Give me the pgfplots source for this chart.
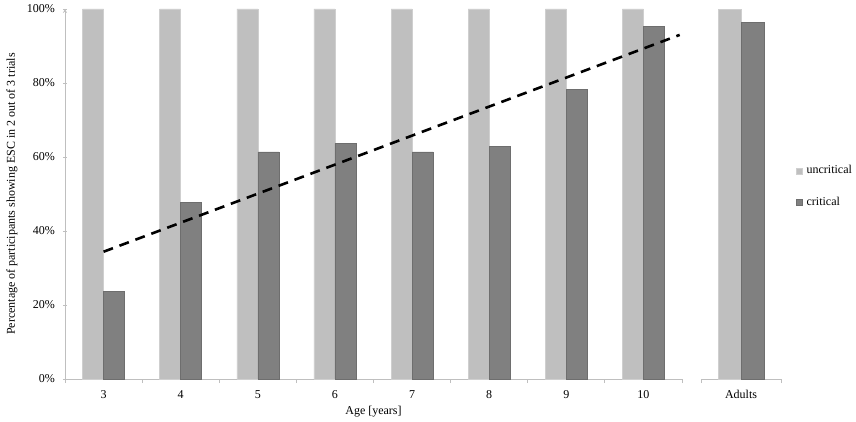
\documentclass[border=0pt]{standalone}
\usepackage{pgfplots}
\pgfplotsset{compat=1.18}
\usepackage{fontspec}
\setmainfont{Liberation Serif}
\definecolor{unc}{HTML}{BFBFBF}
\definecolor{uncedge}{HTML}{CFCFCF}
\definecolor{cri}{HTML}{808080}
\definecolor{criedge}{HTML}{6E6E6E}
\definecolor{axgray}{HTML}{BFBFBF}
\newcommand{\fs}{\fontsize{12}{14}\selectfont}
\pgfplotsset{
  common/.style={
    scale only axis,
    height=370pt,
    ymin=0, ymax=100,
    axis x line=bottom,
    axis line style={-,draw=axgray,line width=0.8pt},
    tick style={draw=axgray,line width=0.8pt},
    tick align=outside,
    major x tick style={draw=none},
    minor tick length=4pt,
    major tick length=4pt,
    x tick label style={font=\fs,yshift=-3pt},
    y tick label style={font=\fs,xshift=-4pt},
    label style={font=\fs},
    /pgf/number format/assume math mode=true,
    ybar,
    clip=false,
  }
}
\begin{document}
\fs
\begin{tikzpicture}
\useasboundingbox (0,0) rectangle (856pt,421pt);
\begin{axis}[common,
  at={(65pt,42pt)}, anchor=south west,
  width=617pt,
  xmin=2.5, xmax=10.5,
  axis y line=left,
  xtick={3,4,5,6,7,8,9,10},
  minor xtick={2.5,3.5,...,10.5},
  ytick={0,20,40,60,80,100},
  yticklabel={\pgfmathprintnumber{\tick}\%},
  xlabel={Age [years]},
  xlabel style={at={(axis description cs:0.5,-0.089)},anchor=center},
  ylabel={Percentage of participants showing ESC in 2 out of 3 trials},
  ylabel style={at={(axis description cs:-0.086,0.5)},anchor=center},
  legend style={at={(axis description cs:1.18,0.588)},anchor=north west,draw=none,fill=none,font=\fs,row sep=17pt,
    /tikz/every odd column/.append style={column sep=2pt}},
  legend cell align=left,
  legend image code/.code={\fill[#1] (0pt,-3pt) rectangle (6pt,3pt);},
]
\addplot[fill=unc,draw=uncedge,bar width=21pt,bar shift=-10.5pt] coordinates {
(3,100) (4,100) (5,100) (6,100) (7,100) (8,100) (9,100) (10,100)};
\addlegendentry{uncritical}
\addplot[fill=cri,draw=criedge,bar width=21pt,bar shift=10.5pt] coordinates {
(3,23.6) (4,47.7) (5,61.4) (6,63.7) (7,61.4) (8,62.8) (9,78.3) (10,95.4)};
\addlegendentry{critical}
\addplot[sharp plot,black,line width=2.6pt,dash pattern=on 10pt off 7pt,forget plot] coordinates {(3,34.4) (10.47,93)};
\end{axis}
\begin{axis}[common,
  at={(701pt,42pt)}, anchor=south west,
  width=80pt,
  xmin=0.5, xmax=1.5,
  axis y line=none,
  xtick={1}, xticklabels={Adults},
  minor xtick={0.5,1.5},
]
\addplot[fill=unc,draw=uncedge,bar width=23pt,bar shift=-11.5pt] coordinates {(1,100)};
\addplot[fill=cri,draw=criedge,bar width=23pt,bar shift=11.5pt] coordinates {(1,96.4)};
\end{axis}
\end{tikzpicture}
\end{document}
